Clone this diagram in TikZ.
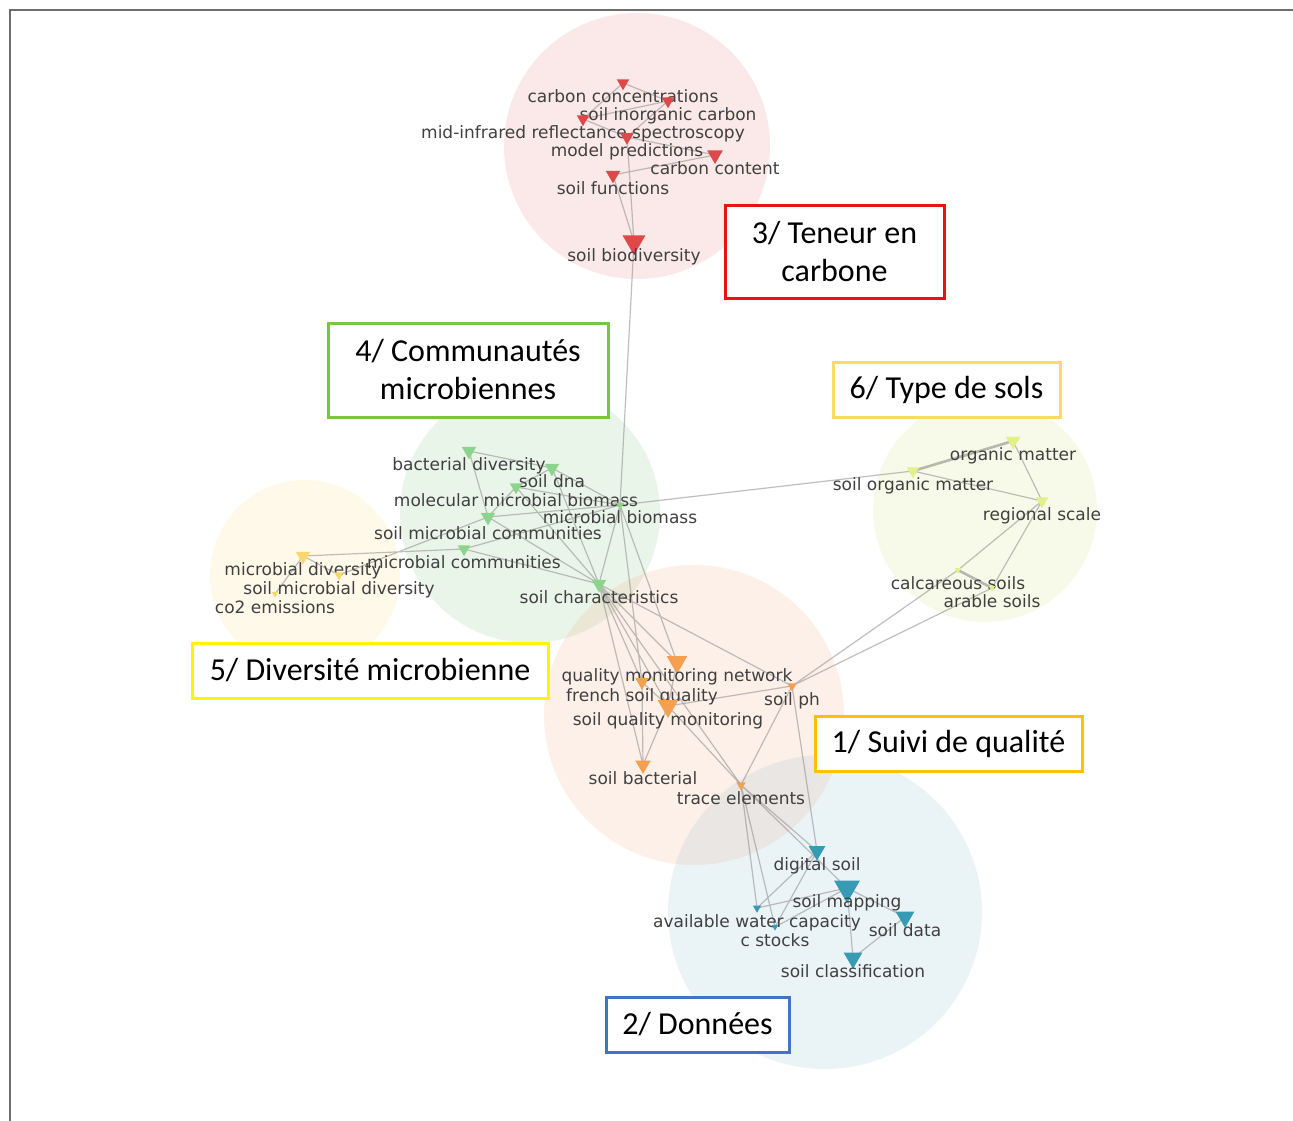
\documentclass[tikz,border=0pt]{standalone}
\usepackage{fontspec}
\setmainfont{DejaVu Sans}
\newfontfamily\boxfont{Carlito}
\usetikzlibrary{shapes.geometric}
\definecolor{redtri}{RGB}{222,72,72}
\definecolor{greentri}{RGB}{140,212,140}
\definecolor{yeltri}{RGB}{250,215,110}
\definecolor{typtri}{RGB}{225,240,135}
\definecolor{orgtri}{RGB}{245,160,80}
\definecolor{bluetri}{RGB}{55,155,180}
\definecolor{redc}{RGB}{225,80,80}
\definecolor{greenc}{RGB}{100,180,100}
\definecolor{yelc}{RGB}{255,215,100}
\definecolor{typc}{RGB}{200,220,80}
\definecolor{orgc}{RGB}{240,140,80}
\definecolor{bluec}{RGB}{100,170,195}
\definecolor{edgegray}{RGB}{140,140,140}
\definecolor{labgray}{RGB}{64,64,64}
\definecolor{framegray}{RGB}{110,110,110}
\definecolor{bxred}{RGB}{238,17,17}
\definecolor{bxgreen}{RGB}{122,196,66}
\definecolor{bxgold}{RGB}{255,217,102}
\definecolor{bxyellow}{RGB}{255,245,0}
\definecolor{bxorange}{RGB}{255,192,0}
\definecolor{bxblue}{RGB}{68,114,196}
\tikzset{
  tri/.style={regular polygon, regular polygon sides=3, shape border rotate=180,
    fill=#1, draw=none, inner sep=0pt},
  lab/.style={font=\fontsize{17}{20}\selectfont, text=labgray, inner sep=0pt, anchor=base},
  edge/.style={draw=edgegray, line width=1.2pt, opacity=0.55},
  thickedge/.style={draw=edgegray, line width=2.6pt, opacity=0.6},
  cluster/.style={fill=#1, fill opacity=0.13, draw=none},
  gbox/.style={draw=#1, line width=3pt, fill=white, font=\boxfont\fontsize{32}{38}\selectfont,
    align=center, inner sep=0pt, text=black}
}
\newcommand\kwnode[5][19.5]{%
  \node[tri=#4, minimum size=#3*1.2] (#2-t) at (#2) {};
  \node[lab] (#2-l) at ([yshift=-#1pt]#2) {#5};}
\begin{document}
\begin{tikzpicture}[x=1pt,y=-1pt]
\useasboundingbox (0,0) rectangle (1293,1121);
\fill[white] (0,0) rectangle (1293,1121);
\draw[framegray, line width=1.5pt] (10,1121) -- (10,10) -- (1293,10);

% cluster discs
\fill[cluster=redc] (637,146) circle[radius=133];
\fill[cluster=greenc] (530,513) circle[radius=130];
\fill[cluster=yelc] (305,575) circle[radius=95];
\fill[cluster=typc] (985,510) circle[radius=112];
\fill[cluster=orgc] (694,715) circle[radius=150];
\fill[cluster=bluec] (825,912) circle[radius=157];

% node positions
\coordinate (cc) at (623,83);
\coordinate (sic) at (668,101);
\coordinate (mir) at (583,119);
\coordinate (mp) at (627,137);
\coordinate (cont) at (715,155);
\coordinate (sf) at (613,175);
\coordinate (bio) at (634,242);
\coordinate (bd) at (469,451);
\coordinate (sdna) at (552,468);
\coordinate (mmb) at (516,487);
\coordinate (mb) at (620,505);
\coordinate (smc) at (488,517);
\coordinate (mc) at (464,549);
\coordinate (sc) at (599,584);
\coordinate (md) at (303,556);
\coordinate (smd) at (339,575);
\coordinate (co2) at (275,594);
\coordinate (om) at (1013,441);
\coordinate (som) at (913,471);
\coordinate (rs) at (1042,501);
\coordinate (calc) at (958,570);
\coordinate (ar) at (992,588);
\coordinate (qmn) at (677,662);
\coordinate (fsq) at (642,682);
\coordinate (sqm) at (668,706);
\coordinate (ph) at (792,686);
\coordinate (sb) at (643,765);
\coordinate (te) at (741,785);
\coordinate (ds) at (817,851);
\coordinate (sm) at (847,888);
\coordinate (sd) at (905,917);
\coordinate (awc) at (757,908);
\coordinate (cst) at (775,927);
\coordinate (scl) at (853,958);

% edges
\draw[edge] (cc)--(sic) (cc)--(mir) (mir)--(sic) (mir)--(mp) (sic)--(mp)
  (mp)--(cont) (sf)--(cont) (mp)--(bio) (sf)--(bio) (bio)--(mb);
\draw[edge] (bd)--(sdna) (bd)--(smc) (sdna)--(mmb) (sdna)--(mb) (sdna)--(sc)
  (mmb)--(smc) (mmb)--(mb) (mmb)--(sc) (smc)--(mb) (smc)--(sc)
  (mc)--(sc) (mc)--(mb) (mb)--(sc) (mb)--(som) (mb)--(qmn) (mb)--(fsq)
  (sc)--(qmn) (sc)--(fsq) (sc)--(sqm) (sc)--(sb) (sc)--(te) (sc)--(ph);
\draw[edge] (md)--(mc) (md)--(smd) (co2)--(md) (smd)--(smc);
\draw[thickedge] (om)--(som) (calc)--(ar);
\draw[edge] (om)--(rs) (som)--(rs) (rs)--(calc) (rs)--(ar) (calc)--(ph) (ar)--(ph);
\draw[edge] (qmn)--(sqm) (fsq)--(sqm) (fsq)--(sb) (sqm)--(sb) (sqm)--(ph)
  (sqm)--(te) (ph)--(te) (ph)--(ds);
\draw[edge] (te)--(ds) (te)--(sm) (te)--(awc) (te)--(cst) (ds)--(awc) (ds)--(cst)
  (sm)--(sd) (sm)--(awc) (sm)--(scl) (sd)--(scl) (cst)--(sm);

% keyword nodes
\kwnode{cc}{12}{redtri}{carbon concentrations}
\kwnode{sic}{12}{redtri}{soil inorganic carbon}
\kwnode{mir}{12}{redtri}{mid-infrared reflectance spectroscopy}
\kwnode{mp}{13}{redtri}{model predictions}
\kwnode{cont}{15}{redtri}{carbon content}
\kwnode{sf}{14}{redtri}{soil functions}
\kwnode{bio}{22}{redtri}{soil biodiversity}
\kwnode{bd}{14}{greentri}{bacterial diversity}
\kwnode{sdna}{14}{greentri}{soil dna}
\kwnode{mmb}{12}{greentri}{molecular microbial biomass}
\kwnode[18.5]{mb}{8}{greentri}{microbial biomass}
\kwnode[22]{smc}{14}{greentri}{soil microbial communities}
\kwnode{mc}{12}{greentri}{microbial communities}
\kwnode{sc}{14}{greentri}{soil characteristics}
\kwnode{md}{14}{yeltri}{microbial diversity}
\kwnode{smd}{9}{yeltri}{soil microbial diversity}
\kwnode{co2}{6}{yeltri}{co2 emissions}
\kwnode{om}{14}{typtri}{organic matter}
\kwnode{som}{12}{typtri}{soil organic matter}
\kwnode{rs}{12}{typtri}{regional scale}
\kwnode{calc}{6}{typtri}{calcareous soils}
\kwnode{ar}{6}{typtri}{arable soils}
\kwnode{qmn}{20}{orgtri}{quality monitoring network}
\kwnode{fsq}{13}{orgtri}{french soil quality}
\kwnode{sqm}{20}{orgtri}{soil quality monitoring}
\kwnode{ph}{9}{orgtri}{soil ph}
\kwnode{sb}{15}{orgtri}{soil bacterial}
\kwnode{te}{9}{orgtri}{trace elements}
\kwnode{ds}{16}{bluetri}{digital soil}
\kwnode{sm}{25}{bluetri}{soil mapping}
\kwnode{sd}{18}{bluetri}{soil data}
\kwnode{awc}{8}{bluetri}{available water capacity}
\kwnode{cst}{6}{bluetri}{c stocks}
\kwnode{scl}{18}{bluetri}{soil classification}

% topic boxes
\node[gbox=bxred, minimum width=219, minimum height=93] (b3) at (834.5,251.5) {3/ Teneur en\\carbone};
\node[gbox=bxgreen, minimum width=280, minimum height=94] (b4) at (468,370) {4/ Communautés\\microbiennes};
\node[gbox=bxgold, minimum width=227, minimum height=55] (b6) at (946.5,389.5) {6/ Type de sols};
\node[gbox=bxyellow, minimum width=356, minimum height=55] (b5) at (370,670.5) {5/ Diversité microbienne};
\node[gbox=bxorange, minimum width=267, minimum height=55] (b1) at (948.5,743.5) {1/ Suivi de qualité};
\node[gbox=bxblue, minimum width=183, minimum height=55] (b2) at (697.5,1024.5) {2/ Données};
\end{tikzpicture}
\end{document}
